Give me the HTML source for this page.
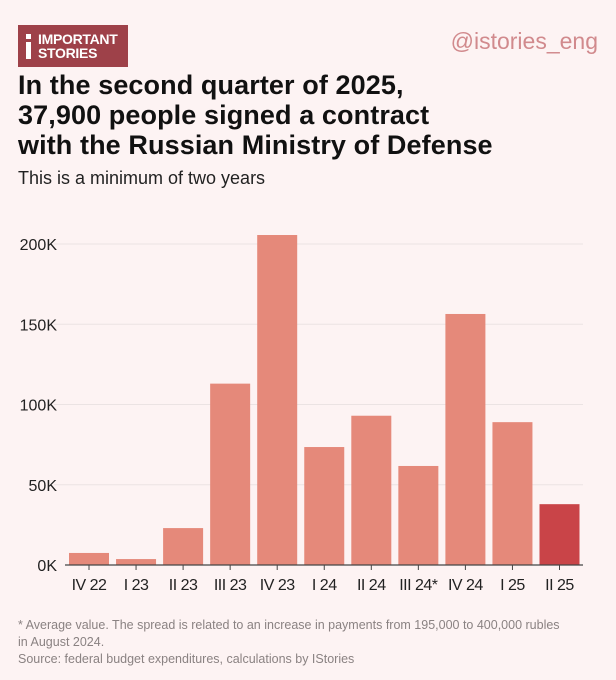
<!DOCTYPE html>
<html><head><meta charset="utf-8"><style>
body{margin:0;background:#fdf3f3;font-family:"Liberation Sans",sans-serif;}
#wrap{position:relative;width:616px;height:680px;overflow:hidden;background:#fdf3f3}
.logo{position:absolute;left:18px;top:25px;width:110px;height:42px;background:#9e4149;color:#fff}
.logo .i{position:absolute;left:8px;top:9px;width:5px;height:25px;}
.logo .t{position:absolute;left:20px;top:7px;font-weight:bold;font-size:14px;line-height:14px;letter-spacing:-0.3px}
.handle{position:absolute;right:18px;top:28px;color:#d18a8d;font-size:23px}
h1{position:absolute;left:18px;top:70px;margin:0;font-size:27px;line-height:30px;font-weight:bold;color:#111;letter-spacing:0.1px}
.sub{position:absolute;left:18px;top:168px;font-size:18px;color:#222}
.note{position:absolute;left:18px;top:617px;font-size:12.5px;line-height:17px;color:#8a8282}
</style></head><body><div id="wrap">
<div class="logo"><svg class="i" viewBox="0 0 5 25"><rect x="0" y="0" width="5" height="5" fill="#fff"/><rect x="0" y="8" width="5" height="17" fill="#fff"/></svg><div class="t">IMPORTANT<br>STORIES</div></div>
<div class="handle">@istories_eng</div>
<h1>In the second quarter of 2025,<br>37,900 people signed a contract<br>with the Russian Ministry of Defense</h1>
<div class="sub">This is a minimum of two years</div>
<svg id="chart" width="616" height="680" style="position:absolute;left:0;top:0"></svg>
<div class="note">* Average value. The spread is related to an increase in payments from 195,000 to 400,000 rubles<br>in August 2024.<br>Source: federal budget expenditures, calculations by IStories</div>
</div>
<script>
const categories=["IV 22","I 23","II 23","III 23","IV 23","I 24","II 24","III 24*","IV 24","I 25","II 25"];
const values=[7500,3700,23000,113000,205600,73500,93000,61700,156400,89000,37900];
const ticks=[0,50000,100000,150000,200000];
const tickLabels=["0K","50K","100K","150K","200K"];
const svg=document.getElementById('chart');
const NS='http://www.w3.org/2000/svg';
const y=v=>565-v/200000*321;
const x=i=>69+i*47.05;
const bw=40;
function mk(t,a,txt){const e=document.createElementNS(NS,t);for(const k in a)e.setAttribute(k,a[k]);if(txt!=null)e.textContent=txt;svg.appendChild(e);return e;}
ticks.forEach((t,i)=>{
  if(t>0){const g=mk('line',{x1:54,x2:583,y1:y(t),y2:y(t),stroke:'#ebe3e3','stroke-width':1});
  
  }
  const l=mk('text',{x:57,y:y(t)+6,'text-anchor':'end','font-size':16,fill:'#222','font-family':'Liberation Sans'},tickLabels[i]);
  
  
});
values.forEach((v,i)=>{
  const r=mk('rect',{x:x(i),y:y(v),width:bw,height:565-y(v),fill:i===values.length-1?'#c94448':'#e5897a'});
  
  
  const tk=mk('line',{x1:x(i)+bw/2,x2:x(i)+bw/2,y1:565,y2:570,stroke:'#444'});
  
  
  const t=mk('text',{x:x(i)+bw/2,y:590,'text-anchor':'middle','font-size':16,fill:'#222','font-family':'Liberation Sans','letter-spacing':'-0.5'},categories[i]);
  
  
});
const ax=mk('line',{x1:65,x2:583,y1:565,y2:565,stroke:'#444','stroke-width':1.2});


</script></body></html>
